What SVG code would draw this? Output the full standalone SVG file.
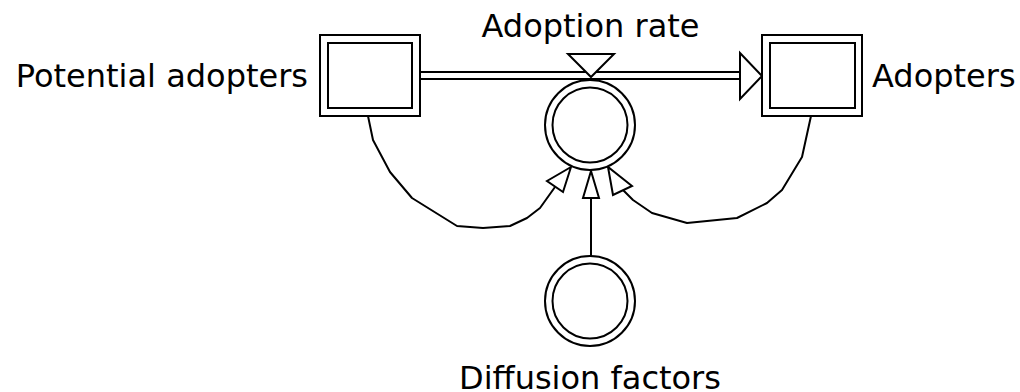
<svg xmlns="http://www.w3.org/2000/svg" width="1020" height="392" viewBox="0 0 1020 392">
<style>
.s{fill:#fff;stroke:#000;stroke-width:2}
.l{fill:none;stroke:#000;stroke-width:2;stroke-linejoin:round}
.h{fill:#fff;stroke:#000;stroke-width:2;stroke-linejoin:miter}
text{font-family:"DejaVu Sans",Verdana,sans-serif;font-size:32px;fill:#000}
</style>
<rect width="1020" height="392" fill="#fff"/>
<g id="connectors">
<line class="l" x1="421" y1="72" x2="741" y2="72"/>
<line class="l" x1="421" y1="79" x2="741" y2="79"/>
<polygon class="h" points="740,53 762,76 740,99"/>
<polyline class="l" points="368,116 373,140 390,172 412,198 457,226 483,228 510,226 527,218 540,208 555,187"/>
<polygon class="h" points="571,167 547,181 563,192"/>
<polyline class="l" points="811,116 802,157 782,190 767,203 737,218 687,223 652,213 633,200 623,190"/>
<polygon class="h" points="608,167 613,195 632,186"/>
<line class="l" x1="591" y1="198" x2="591" y2="256"/>
<polygon class="h" points="591,171 583,198 599,198"/>
</g>
<g id="potential-adopters">
<rect class="s" x="320" y="35" width="100" height="81"/>
<rect class="s" x="328" y="43" width="84" height="65"/>
<text x="308" y="87" text-anchor="end">Potential adopters</text>
</g>
<g id="adopters">
<rect class="s" x="762" y="35" width="100" height="81"/>
<rect class="s" x="770" y="43" width="85" height="65"/>
<text x="872" y="87">Adopters</text>
</g>
<g id="adoption-rate">
<circle class="s" cx="590" cy="125" r="45"/>
<circle class="s" cx="590" cy="125" r="37.5"/>
<polygon class="h" points="568,54 614,54 591,77"/>
<text x="590.5" y="37" text-anchor="middle">Adoption rate</text>
</g>
<g id="diffusion-factors">
<circle class="s" cx="590" cy="301" r="45"/>
<circle class="s" cx="590" cy="301" r="37.5"/>
<text x="590" y="389" text-anchor="middle">Diffusion factors</text>
</g>
</svg>
